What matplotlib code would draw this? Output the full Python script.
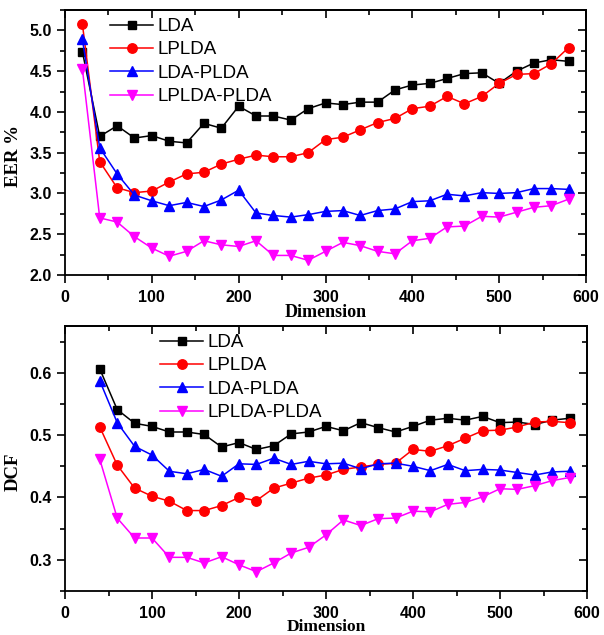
import numpy as np
import matplotlib
matplotlib.use('Agg')
import matplotlib.pyplot as plt
from matplotlib.ticker import MultipleLocator, FormatStrFormatter

# dimensions
dim_eer = list(range(20, 600, 20))
dim_dcf = list(range(40, 600, 20))

# EER % values
eer_lda = [4.74, 3.70, 3.83, 3.68, 3.71, 3.64, 3.62, 3.86, 3.80, 4.07, 3.95, 3.95, 3.90, 4.04,
           4.11, 4.09, 4.12, 4.12, 4.27, 4.33, 4.35, 4.41, 4.47, 4.48, 4.35, 4.50, 4.60, 4.64, 4.62]
eer_lplda = [5.08, 3.39, 3.07, 3.01, 3.03, 3.14, 3.24, 3.26, 3.36, 3.42, 3.47, 3.45, 3.45, 3.50,
             3.66, 3.69, 3.78, 3.87, 3.92, 4.04, 4.07, 4.19, 4.10, 4.19, 4.35, 4.46, 4.47, 4.59, 4.79]
eer_lda_plda = [4.89, 3.56, 3.24, 2.98, 2.91, 2.85, 2.89, 2.84, 2.92, 3.04, 2.76, 2.73, 2.71, 2.74,
                2.78, 2.79, 2.73, 2.79, 2.81, 2.90, 2.91, 2.99, 2.97, 3.01, 3.00, 3.01, 3.06, 3.06, 3.05]
eer_lplda_plda = [4.53, 2.70, 2.65, 2.47, 2.33, 2.23, 2.29, 2.42, 2.37, 2.35, 2.42, 2.24, 2.24, 2.18,
                  2.29, 2.40, 2.36, 2.29, 2.26, 2.42, 2.45, 2.59, 2.60, 2.72, 2.71, 2.77, 2.83, 2.85, 2.93]

# DCF values
dcf_lda = [0.606, 0.541, 0.519, 0.514, 0.505, 0.505, 0.501, 0.481, 0.488, 0.477, 0.483, 0.502, 0.505,
           0.514, 0.507, 0.520, 0.512, 0.505, 0.514, 0.524, 0.527, 0.524, 0.530, 0.520, 0.521, 0.517, 0.524, 0.527]
dcf_lplda = [0.513, 0.452, 0.415, 0.402, 0.394, 0.379, 0.379, 0.387, 0.400, 0.395, 0.415, 0.423, 0.431,
             0.436, 0.445, 0.449, 0.453, 0.455, 0.477, 0.474, 0.483, 0.495, 0.507, 0.508, 0.513, 0.521, 0.522, 0.520]
dcf_lda_plda = [0.587, 0.520, 0.482, 0.468, 0.442, 0.438, 0.445, 0.434, 0.454, 0.453, 0.463, 0.453, 0.458,
                0.454, 0.455, 0.446, 0.454, 0.455, 0.450, 0.443, 0.453, 0.443, 0.445, 0.444, 0.440, 0.436, 0.441, 0.442]
dcf_lplda_plda = [0.461, 0.367, 0.335, 0.335, 0.304, 0.304, 0.295, 0.305, 0.292, 0.281, 0.295, 0.311, 0.320,
                  0.340, 0.364, 0.355, 0.366, 0.367, 0.378, 0.377, 0.389, 0.392, 0.401, 0.414, 0.413, 0.419, 0.427, 0.432]

labels = ['LDA', 'LPLDA', 'LDA-PLDA', 'LPLDA-PLDA']
colors = ['black', '#ff0000', '#0000ff', '#ff00ff']
markers = ['s', 'o', '^', 'v']
msizes = [6, 6.8, 7, 7]

sans = 'Liberation Sans'
serif = 'Liberation Serif'

plt.rcParams['font.family'] = sans
plt.rcParams['font.weight'] = 'bold'
plt.rcParams['xtick.labelsize'] = 11.5
plt.rcParams['ytick.labelsize'] = 11.5

fig = plt.figure(figsize=(6.04, 6.35), dpi=100)
ax1 = fig.add_axes([65/604, 1-275/635, 521/604, 265/635])
ax2 = fig.add_axes([65/604, 1-591/635, 522/604, 265/635])


def style(ax, ylab, ymaj, ymin, xlab_size, xlab_y):
    ax.set_xlim(0, 600)
    ax.xaxis.set_major_locator(MultipleLocator(100))
    ax.xaxis.set_minor_locator(MultipleLocator(50))
    ax.yaxis.set_major_locator(MultipleLocator(ymaj))
    ax.yaxis.set_minor_locator(MultipleLocator(ymin))
    ax.yaxis.set_major_formatter(FormatStrFormatter('%.1f'))
    for s in ax.spines.values():
        s.set_linewidth(1.3)
    ax.tick_params(which='major', direction='out', length=5.5, width=1.2, pad=4,
                   top=False, right=False)
    ax.tick_params(axis='x', which='major', pad=5)
    ax.tick_params(which='minor', direction='out', length=3.5, width=1.2,
                   top=False, right=False)
    # mirrored ticks pointing inward
    tx = ax.secondary_xaxis('top')
    tx.xaxis.set_major_locator(MultipleLocator(100))
    tx.xaxis.set_minor_locator(MultipleLocator(50))
    tx.tick_params(which='major', direction='in', length=5.5, width=1.2, labeltop=False)
    tx.tick_params(which='minor', direction='in', length=3.5, width=1.2)
    tx.spines['top'].set_linewidth(1.3)
    ty = ax.secondary_yaxis('right')
    ty.yaxis.set_major_locator(MultipleLocator(ymaj))
    ty.yaxis.set_minor_locator(MultipleLocator(ymin))
    ty.tick_params(which='major', direction='in', length=5.5, width=1.2, labelright=False)
    ty.tick_params(which='minor', direction='in', length=3.5, width=1.2)
    ty.spines['right'].set_linewidth(1.3)
    ax.set_xlabel('Dimension', fontfamily=serif, fontweight='bold', fontsize=xlab_size)
    ax.xaxis.set_label_coords(0.5, xlab_y)
    ax.set_ylabel(ylab, fontfamily=serif, fontweight='bold', fontsize=13.5)
    ax.yaxis.set_label_coords(-0.083, 0.45)


series_eer = [eer_lda, eer_lplda, eer_lda_plda, eer_lplda_plda]
series_dcf = [dcf_lda, dcf_lplda, dcf_lda_plda, dcf_lplda_plda]

for ys, lab, c, m, ms in zip(series_eer, labels, colors, markers, msizes):
    ax1.plot(dim_eer, ys, color=c, marker=m, markersize=ms, linewidth=1.1, label=lab)
for ys, lab, c, m, ms in zip(series_dcf, labels, colors, markers, msizes):
    ax2.plot(dim_dcf, ys, color=c, marker=m, markersize=ms, linewidth=1.1, label=lab)

ax1.set_ylim(2.0, 5.25)
ax2.set_ylim(0.25, 0.675)
style(ax1, 'EER %', 0.5, 0.25, 13, -0.108)
style(ax2, 'DCF', 0.1, 0.05, 12.5, -0.106)

leg_kw = dict(loc='upper left', bbox_transform=fig.transFigure, frameon=False,
              handlelength=2.3, handletextpad=0.25, labelspacing=0.33,
              borderpad=0, borderaxespad=0,
              prop={'family': sans, 'size': 13.5, 'weight': 'normal'})
ax1.legend(bbox_to_anchor=(110/604, 1-18/635), **leg_kw)
ax2.legend(bbox_to_anchor=(160/604, 1-334/635), **leg_kw)

fig.savefig('out.png', dpi=100)
